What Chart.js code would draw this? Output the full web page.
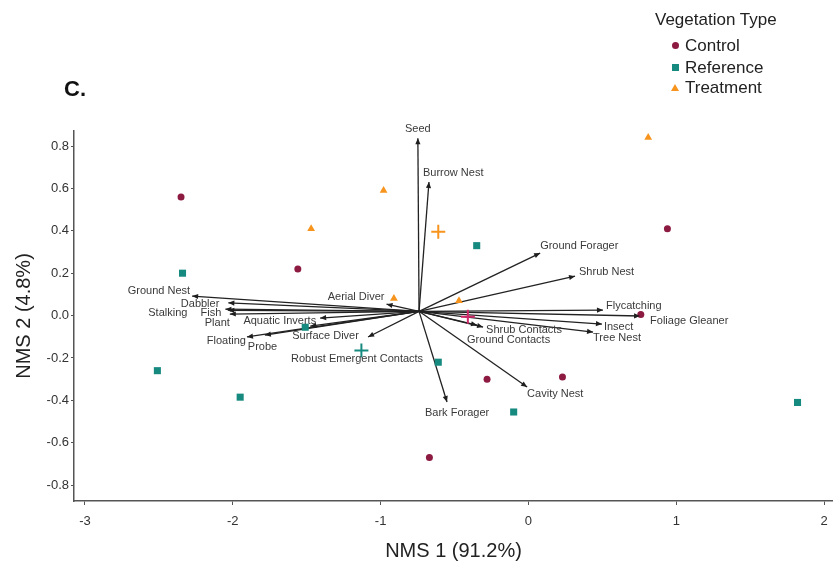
<!DOCTYPE html>
<html>
<head>
<meta charset="utf-8">
<title>NMS ordination - vegetation type</title>
<script src="https://cdn.jsdelivr.net/npm/chart.js@4.4.1/dist/chart.umd.min.js"></script>
<style>
    html, body { margin: 0; padding: 0; background: #fff; }
    #wrap { position: relative; width: 833px; height: 570px; font-family: 'Liberation Sans', Arial, sans-serif; color: #222; }
    #panel { position: absolute; left: 64px; top: 76px; font-size: 22px; font-weight: bold; color: #111; }
    .lg { position: absolute; font-size: 17px; line-height: 20px; white-space: nowrap; }
    .mk { position: absolute; }
    .mk.circle { width: 7px; height: 7px; border-radius: 50%; background: #8c1a41; }
    .mk.square { width: 7px; height: 7px; background: #178a80; }
    .mk.tri { width: 0; height: 0; border-left: 4px solid transparent; border-right: 4px solid transparent; border-bottom: 7px solid #f7941d; }
</style>
</head>
<body>
<div id="wrap">
    <canvas id="chart" width="833" height="570"></canvas>
    <div id="panel">C.</div>
    <div class="lg" style="left:655px; top:10px;">Vegetation Type</div>
    <div class="mk circle" style="left:672px; top:42px;"></div>
    <div class="lg" style="left:685px; top:36px;">Control</div>
    <div class="mk square" style="left:672px; top:64px;"></div>
    <div class="lg" style="left:685px; top:58px;">Reference</div>
    <div class="mk tri" style="left:671px; top:84px;"></div>
    <div class="lg" style="left:685px; top:78px;">Treatment</div>
</div>
<script>
// ---- data (NMS axis scores) ----
const controlX = [-2.35, -1.56, 0.94, 0.76, -0.28, 0.23, -0.67];
const controlY = [0.56, 0.22, 0.41, 0.005, -0.30, -0.29, -0.67];
const referenceX = [-2.34, -2.51, -1.95, -0.35, -0.61, -0.10, 1.82, -1.51];
const referenceY = [0.20, -0.26, -0.385, 0.33, -0.22, -0.455, -0.41, -0.055];
const treatmentX = [0.81, -0.98, -1.47, -0.91, -0.47];
const treatmentY = [0.84, 0.59, 0.41, 0.08, 0.07];

// group centroids: control, reference, treatment
const centroidX = [-0.41, -1.13, -0.61];
const centroidY = [-0.005, -0.165, 0.395];

// joint plot vectors (origin + tips)
const vectorOrigin = [-0.74, 0.02];
const vectorNames = ['Seed', 'Burrow Nest', 'Ground Forager', 'Shrub Nest', 'Flycatching', 'Foliage Gleaner',
    'Insect', 'Tree Nest', 'Shrub Contacts', 'Ground Contacts', 'Cavity Nest', 'Bark Forager',
    'Robust Emergent Contacts', 'Surface Diver', 'Aquatic Inverts', 'Floating', 'Probe', 'Ground Nest',
    'Dabbler', 'Stalking', 'Fish', 'Plant', 'Aerial Diver'];
const vectorX = [-0.748, -0.673, 0.079, 0.315, 0.504, 0.755, 0.497, 0.437, -0.307, -0.348, -0.009, -0.551,
    -1.085, -1.476, -1.409, -1.904, -1.783, -2.275, -2.03, -2.05, -2.03, -2.02, -0.96];
const vectorY = [0.837, 0.630, 0.295, 0.186, 0.026, -0.002, -0.040, -0.078, -0.054, -0.045, -0.337, -0.408,
    -0.101, -0.050, -0.012, -0.101, -0.092, 0.092, 0.060, 0.030, 0.025, 0.007, 0.054];

const xTicks = [-3, -2, -1, 0, 1, 2];
const yTicks = [-0.8, -0.6, -0.4, -0.2, 0.0, 0.2, 0.4, 0.6, 0.8];

// label placement relative to the arrow tip (pixels): dx, dy, align
const labelPos = [
    [0, -9, 'center'], [-6, -9, 'left'], [0, -7, 'left'], [4, -4, 'left'], [3, -4, 'left'], [10, 5, 'left'],
    [2, 3, 'left'], [0, 6, 'left'], [3, 3, 'left'], [-10, 15, 'left'], [0, 7, 'left'], [-22, 11, 'left'],
    [-77, 22, 'left'], [-18, 10, 'left'], [-4, 3, 'right'], [-1, 4, 'right'], [-17, 12, 'left'], [-2, -5, 'right'],
    [-9, 1, 'right'], [-38, 4, 'right'], [-7, 3, 'right'], [0, 9, 'right'], [-2, -7, 'right']
];

const pts = (xs, ys) => xs.map((x, i) => ({ x, y: ys[i] }));

const vectorSets = vectorNames.map((name, i) => ({
    label: name,
    data: [{ x: vectorOrigin[0], y: vectorOrigin[1] }, { x: vectorX[i], y: vectorY[i] }],
    showLine: true,
    borderColor: '#222',
    borderWidth: 1.3,
    pointRadius: 0,
    order: 10
}));

// arrowheads + vector labels
const vectorDecor = {
    id: 'vectorDecor',
    afterDatasetsDraw(chart) {
        const { ctx, scales: { x, y } } = chart;
        const ox = x.getPixelForValue(vectorOrigin[0]);
        const oy = y.getPixelForValue(vectorOrigin[1]);
        ctx.save();
        vectorNames.forEach((name, i) => {
            const tx = x.getPixelForValue(vectorX[i]);
            const ty = y.getPixelForValue(vectorY[i]);
            const a = Math.atan2(ty - oy, tx - ox);
            const len = 6, hw = 2.6;
            ctx.fillStyle = '#1e1e1e';
            ctx.beginPath();
            ctx.moveTo(tx, ty);
            ctx.lineTo(tx - len * Math.cos(a) + hw * Math.sin(a), ty - len * Math.sin(a) - hw * Math.cos(a));
            ctx.lineTo(tx - len * Math.cos(a) - hw * Math.sin(a), ty - len * Math.sin(a) + hw * Math.cos(a));
            ctx.closePath();
            ctx.fill();

            const [dx, dy, align] = labelPos[i];
            ctx.font = '11px "Liberation Sans", Arial, sans-serif';
            ctx.fillStyle = '#3a3a3a';
            ctx.textAlign = align;
            ctx.textBaseline = 'middle';
            ctx.fillText(name, tx + dx, ty + dy);
        });
        ctx.restore();
    }
};

const tickFont = { family: '"Liberation Sans Narrow", "Liberation Sans", Arial, sans-serif', size: 13 };
const titleFont = { family: '"Liberation Sans", Arial, sans-serif', size: 20 };

new Chart(document.getElementById('chart'), {
    type: 'scatter',
    data: {
        datasets: [
            { label: 'Control', data: pts(controlX, controlY), pointStyle: 'circle', pointRadius: 3.5,
              backgroundColor: '#8c1a41', borderColor: '#8c1a41', borderWidth: 0, order: 1 },
            { label: 'Reference', data: pts(referenceX, referenceY), pointStyle: 'rect', pointRadius: 5,
              backgroundColor: '#178a80', borderColor: '#178a80', borderWidth: 0, order: 1 },
            { label: 'Treatment', data: pts(treatmentX, treatmentY), pointStyle: 'triangle', pointRadius: 4.5,
              backgroundColor: '#f7941d', borderColor: '#f7941d', borderWidth: 0, order: 1 },
            { label: 'Centroids', data: pts(centroidX, centroidY), pointStyle: 'cross', pointRadius: 7,
              borderColor: ['#d1286a', '#178a80', '#f7941d'], borderWidth: 2, order: 0 },
            ...vectorSets
        ]
    },
    options: {
        responsive: false,
        animation: false,
        devicePixelRatio: 1,
        layout: { autoPadding: false, padding: { top: 131, right: 0, bottom: 0, left: 0 } },
        plugins: { legend: { display: false }, tooltip: { enabled: false } },
        scales: {
            x: {
                type: 'linear', min: -3.074, max: 2.06,
                afterFit: s => { s.height = 69; s.paddingRight = 0; },
                afterBuildTicks: s => { s.ticks = xTicks.map(v => ({ value: v })); },
                ticks: { font: tickFont, color: '#333', padding: 9, callback: v => String(v) },
                grid: { drawOnChartArea: false, drawTicks: true, tickLength: 4, color: '#555' },
                border: { display: true, color: '#555', width: 1.5 },
                title: { display: true, text: 'NMS 1 (91.2%)', font: titleFont, color: '#222', padding: { top: 0, bottom: 7 } }
            },
            y: {
                type: 'linear', min: -0.875, max: 0.871,
                afterFit: s => { s.width = 74; },
                afterBuildTicks: s => { s.ticks = yTicks.map(v => ({ value: v })); },
                ticks: { font: tickFont, color: '#333', padding: 2, callback: v => (Math.abs(v) < 1e-9 ? 0 : v).toFixed(1) },
                grid: { drawOnChartArea: false, drawTicks: true, tickLength: 3, color: '#555' },
                border: { display: true, color: '#555', width: 1.5 },
                title: { display: true, text: 'NMS 2 (4.8%)', font: titleFont, color: '#222', padding: { top: 12, bottom: 0 } }
            }
        }
    },
    plugins: [vectorDecor]
});
</script>
</body>
</html>
